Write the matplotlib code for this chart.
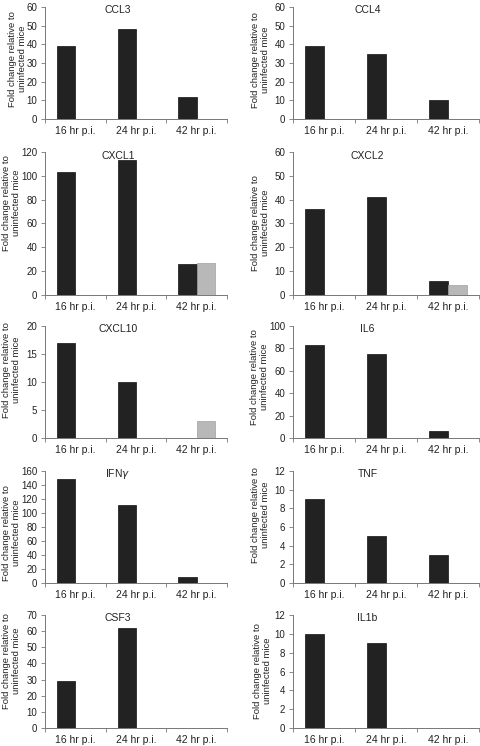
import matplotlib
matplotlib.use("Agg")
import matplotlib.pyplot as plt
import numpy as np

plt.rcParams["font.family"] = ["Liberation Sans", "DejaVu Sans"]

# ---- data ----
categories = ["16 hr p.i.", "24 hr p.i.", "42 hr p.i."]

ccl3 = [39, 48, 12]
ccl4 = [39, 35, 10]
cxcl1 = [103, 113, 26]
cxcl2 = [36, 41, 6]
cxcl10 = [17, 10, 0]
il6 = [83, 75, 6]
ifng = [148, 112, 9]
tnf = [9, 5, 3]
csf3 = [29, 62, 0]
il1b = [10, 9, 0]

# second (grey) series, only present at 42 hr for a few genes
cxcl1_grey = [0, 0, 27]
cxcl2_grey = [0, 0, 4]
cxcl10_grey = [0, 0, 3]
no_grey = [0, 0, 0]

# (title, black, grey, ymax, ystep)
panels = [
    ("CCL3", ccl3, no_grey, 60, 10),
    ("CCL4", ccl4, no_grey, 60, 10),
    ("CXCL1", cxcl1, cxcl1_grey, 120, 20),
    ("CXCL2", cxcl2, cxcl2_grey, 60, 10),
    ("CXCL10", cxcl10, cxcl10_grey, 20, 5),
    ("IL6", il6, no_grey, 100, 20),
    ("IFN$\\gamma$", ifng, no_grey, 160, 20),
    ("TNF", tnf, no_grey, 12, 2),
    ("CSF3", csf3, no_grey, 70, 10),
    ("IL1b", il1b, no_grey, 12, 2),
]

W, H = 480, 746
fig = plt.figure(figsize=(W / 100, H / 100), dpi=100)

# axes boxes in pixels: (top, bottom) per row, (left, right) per column
rows = [(7, 119), (152, 295), (326, 438), (471, 583), (615, 728)]
cols = [(45, 227), (293, 479)]
# y-label placement in pixels (right edge x, centre y) -- the panels are pasted, not aligned
label_pos = [(27, 59), (270, 60), (21, 203), (270, 223), (21, 370),
             (269, 377), (21, 533), (270, 515), (21, 661), (272, 671)]

txt = "#222222"
axc = "#777777"
bw = 0.3
x = np.arange(len(categories))

for k, (title, black, grey, ymax, ystep) in enumerate(panels):
    top, bot = rows[k // 2]
    left, right = cols[k % 2]
    ax = fig.add_axes([left / W, 1 - bot / H, (right - left) / W, (bot - top) / H])

    ax.bar(x - bw / 2, black, bw, color="#222222", edgecolor="#111111", linewidth=0.5)
    ax.bar(x + bw / 2, grey, bw, color="#b8b8b8", edgecolor="#a0a0a0", linewidth=0.5)

    ax.set_xlim(-0.5, 2.5)
    ax.set_ylim(0, ymax)
    ax.set_yticks(np.arange(0, ymax + 0.1, ystep))
    ax.set_xticks(x)
    ax.set_xticklabels(categories)
    ax.set_xticks([-0.5, 0.5, 1.5, 2.5], minor=True)
    ax.tick_params(axis="x", which="major", length=0, labelsize=7.5, pad=5, labelcolor=txt)
    ax.tick_params(axis="x", which="minor", length=3, width=0.6, color=axc)
    ax.tick_params(axis="y", length=3, width=0.6, color=axc, labelsize=7,
                   pad=2.5, labelcolor=txt)

    for s in ("top", "right"):
        ax.spines[s].set_visible(False)
    for s in ("left", "bottom"):
        ax.spines[s].set_linewidth(0.7)
        ax.spines[s].set_color(axc)

    ax.set_ylabel("Fold change relative to\nuninfected mice", fontsize=6.8,
                  color=txt, linespacing=1.1)
    lx, ly = label_pos[k]
    ax.yaxis.set_label_coords((lx - left) / (right - left), (bot - ly) / (bot - top))
    ax.text(0.40, 0.97, title, transform=ax.transAxes, ha="center", va="center",
            fontsize=7.5, color=txt)

fig.savefig("out.png", dpi=100)
